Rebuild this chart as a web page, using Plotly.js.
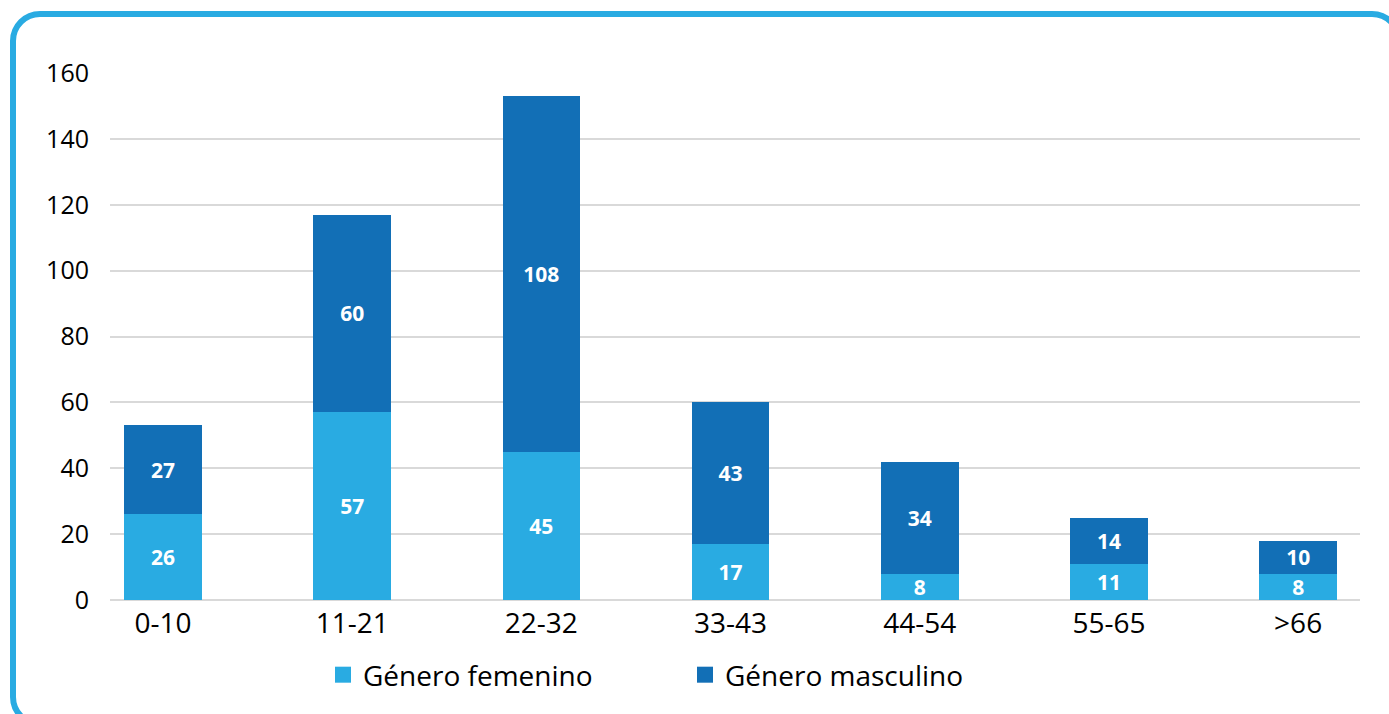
<!DOCTYPE html>
<html>
<head>
<meta charset="utf-8">
<script src="https://cdn.plot.ly/plotly-3.0.1.min.js"></script>
<style>
  html, body { margin: 0; padding: 0; background: #ffffff; overflow: hidden; }
  #frame {
    position: absolute; left: 10px; top: 11px; width: 1392px; height: 716px;
    box-sizing: border-box; border: 6px solid #29abe2; border-radius: 30px;
  }
  #chart { position: absolute; left: 0; top: 0; width: 1389px; height: 714px; }
</style>
</head>
<body>
<div id="frame"></div>
<div id="chart"></div>
<script>
const categories = ['0-10', '11-21', '22-32', '33-43', '44-54', '55-65', '>66'];
const femenino = [26, 57, 45, 17, 8, 11, 8];
const masculino = [27, 60, 108, 43, 34, 14, 10];
const seriesNames = ['Género femenino', 'Género masculino'];
const seriesColors = ['#29abe2', '#126fb6'];
const yTicks = [0, 20, 40, 60, 80, 100, 120, 140, 160];

const FONT = '"Open Sans", Lato, sans-serif';
const xIdx = categories.map((c, i) => i);

function barTrace(vals, k) {
  return {
    type: 'bar', name: seriesNames[k], x: xIdx, y: vals,
    marker: { color: seriesColors[k] }, width: 0.41,
    text: vals.map(String), textposition: 'inside', insidetextanchor: 'middle',
    textangle: 0,
    textfont: { family: FONT, size: 21, color: '#ffffff', weight: 'bold' },
    hoverinfo: 'skip', showlegend: false
  };
}
function legendTrace(k) {
  return {
    type: 'scatter', mode: 'markers', name: seriesNames[k],
    x: [null], y: [null],
    marker: { symbol: 'square', size: 22, color: seriesColors[k] },
    legend: k === 0 ? 'legend' : 'legend2', hoverinfo: 'skip'
  };
}

const traces = [barTrace(femenino, 0), barTrace(masculino, 1), legendTrace(0), legendTrace(1)];

const legendBase = {
  orientation: 'h', y: -0.1423, yanchor: 'middle', xanchor: 'left',
  bgcolor: 'rgba(0,0,0,0)', borderwidth: 0,
  font: { family: FONT, size: 28, color: '#000000' },
  itemwidth: 30, itemsizing: 'trace'
};

const layout = {
  width: 1389, height: 714,
  paper_bgcolor: 'rgba(0,0,0,0)', plot_bgcolor: 'rgba(0,0,0,0)',
  barmode: 'stack',
  margin: { l: 110, r: 29, t: 73, b: 114 },
  font: { family: FONT, color: '#000000' },
  uniformtext: { minsize: 21, mode: 'show' },
  xaxis: {
    range: [-0.28, 6.327], tickmode: 'array', tickvals: xIdx, ticktext: categories,
    showgrid: false, zeroline: false, showline: false, ticks: '',
    tickfont: { family: FONT, size: 28, color: '#000000' }, ticklabelstandoff: 4
  },
  yaxis: {
    range: [0, 160], tickmode: 'array', tickvals: yTicks,
    showgrid: true, gridcolor: '#d9d9d9', gridwidth: 2,
    zeroline: true, zerolinecolor: '#d9d9d9', zerolinewidth: 2,
    showline: false, ticks: '',
    tickfont: { family: FONT, size: 25, color: '#000000' }, ticklabelstandoff: 20
  },
  legend: Object.assign({}, legendBase, { x: 0.1704 }),
  legend2: Object.assign({}, legendBase, { x: 0.46 }),
  showlegend: true
};

Plotly.newPlot('chart', traces, layout, { staticPlot: true, displayModeBar: false });
</script>
</body>
</html>
